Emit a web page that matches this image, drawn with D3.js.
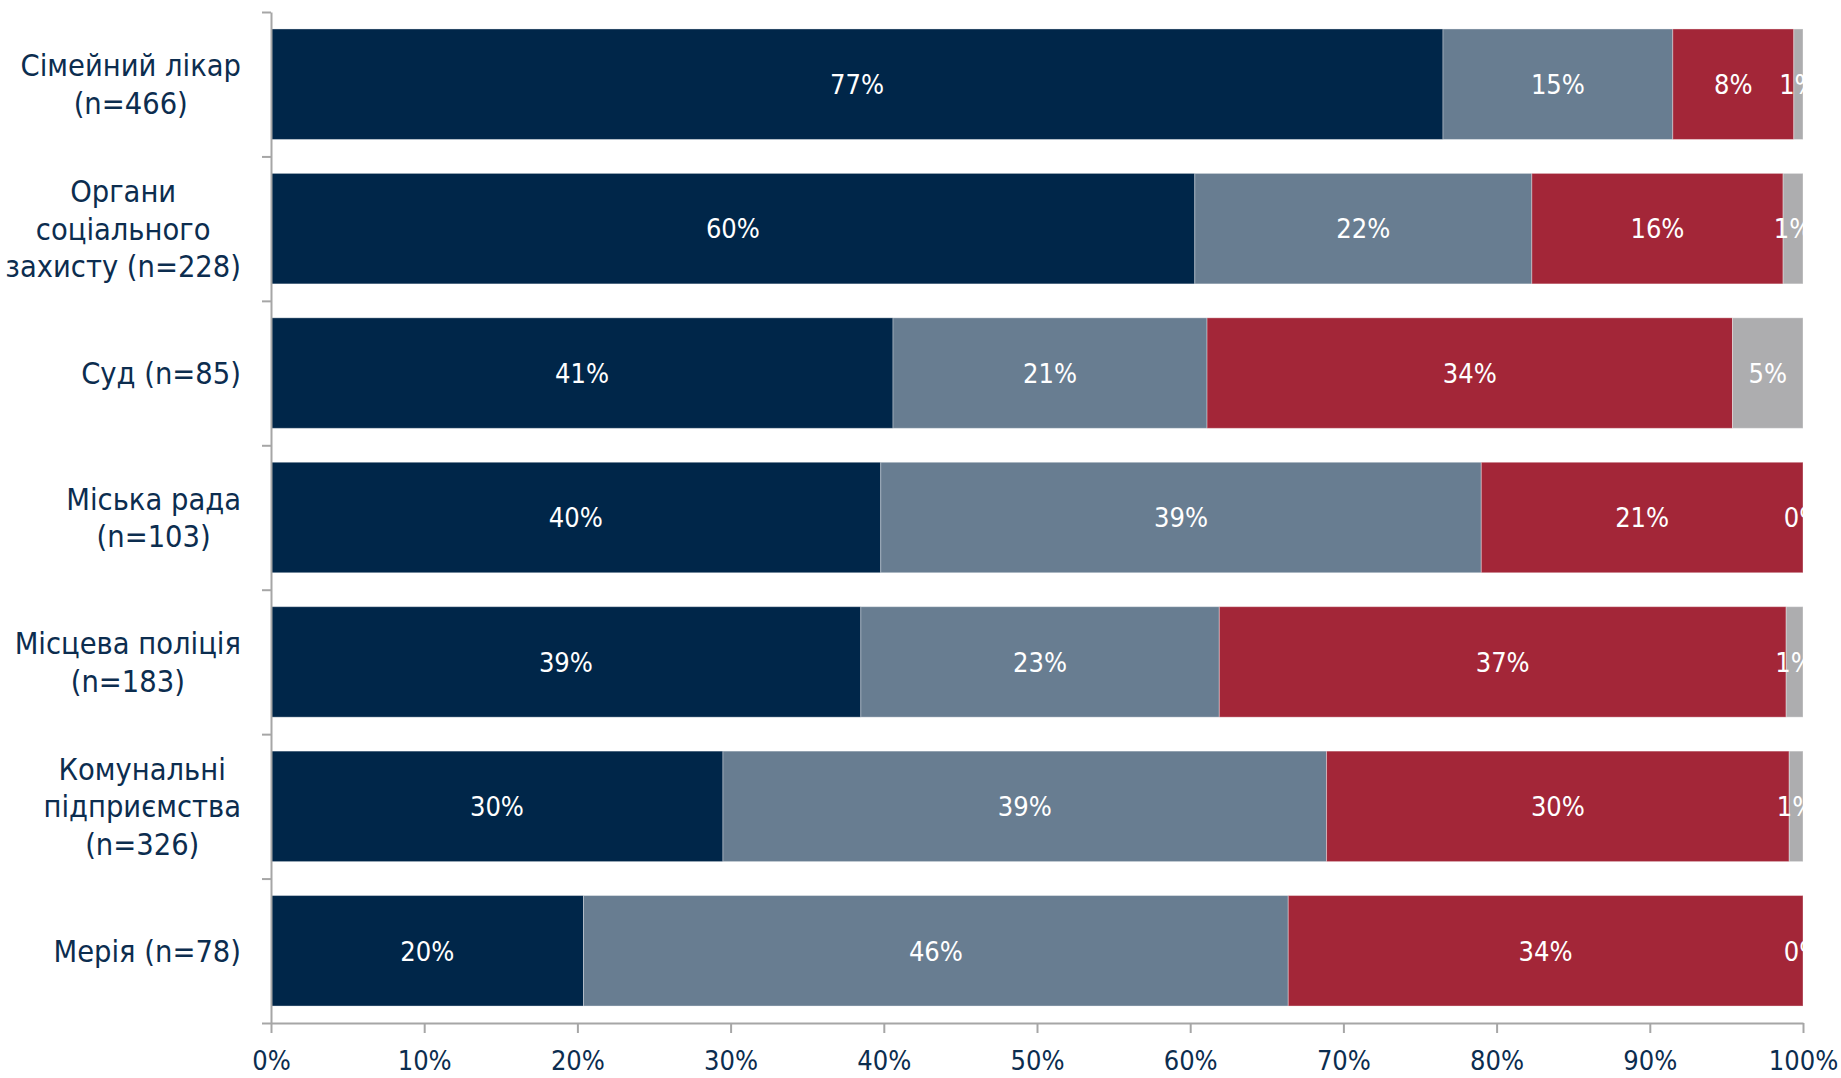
<!DOCTYPE html>
<html>
<head>
<meta charset="utf-8">
<script src="https://cdn.jsdelivr.net/npm/d3@7"></script>
<style>
    body { margin: 0; background: #fff; }
    text { font-family: "DejaVu Sans Condensed", "DejaVu Sans", sans-serif; font-stretch: condensed; }
    .axis path, .axis line { stroke: #a6a6a6; stroke-width: 2; }
    .axis text { fill: #0c2d4f; }
</style>
</head>
<body>
<div id="chart"></div>
<script>
const categories = [
    ["Сімейний лікар", "(n=466)"],
    ["Органи", "соціального", "захисту (n=228)"],
    ["Суд (n=85)"],
    ["Міська рада", "(n=103)"],
    ["Місцева поліція", "(n=183)"],
    ["Комунальні", "підприємства", "(n=326)"],
    ["Мерія (n=78)"]
];

// shares per category, in percent
const seriesDark  = [76.5, 60.3, 40.6, 39.8, 38.5, 29.5, 20.4];
const seriesSteel = [15.0, 22.0, 20.5, 39.2, 23.4, 39.4, 46.0];
const seriesRed   = [ 7.9, 16.4, 34.3, 21.0, 37.0, 30.2, 33.6];
const seriesGrey  = [ 0.6,  1.3,  4.6,  0.0,  1.1,  0.9,  0.0];

const xTicks = [0, 10, 20, 30, 40, 50, 60, 70, 80, 90, 100];
const seriesColors = ["#002649", "#687d91", "#a32638", "#adadaf"];

const width = 1841, height = 1078;
const margin = {top: 12, left: 271, bottom: 55, right: 38};

const svg = d3.select("#chart").append("svg")
    .attr("width", width)
    .attr("height", height);

const xScale = d3.scaleLinear()
    .domain([0, 100])
    .range([margin.left, width - margin.right]);

const yScale = d3.scaleBand()
    .domain(d3.range(categories.length))
    .range([margin.top, height - margin.bottom])
    .paddingInner(0.235)
    .paddingOuter(0.1175);

const yEdges = d3.scaleLinear()
    .domain([0, categories.length])
    .range([margin.top, height - margin.bottom]);

const rows = categories.map((c, i) => {
    const vals = [seriesDark[i], seriesSteel[i], seriesRed[i], seriesGrey[i]];
    let acc = 0;
    return vals.map((v, k) => {
        const seg = {row: i, k: k, value: v, x0: acc, x1: acc + v};
        acc += v;
        return seg;
    });
});
const segments = rows.flat();

svg.append("defs").append("clipPath")
    .attr("id", "plotClip")
    .append("rect")
    .attr("x", xScale(0))
    .attr("y", 0)
    .attr("width", xScale(100) - xScale(0))
    .attr("height", height - margin.bottom);

const bars_g = svg.append("g").attr("class", "bars_g");

bars_g.selectAll("rect")
    .data(segments.filter(d => d.value > 0))
    .enter()
    .append("rect")
    .attr("x", d => xScale(d.x0))
    .attr("y", d => yScale(d.row))
    .attr("width", d => xScale(d.x1) - xScale(d.x0))
    .attr("height", yScale.bandwidth())
    .attr("fill", d => seriesColors[d.k])
    .attr("stroke", "#ffffff")
    .attr("stroke-opacity", 0.35)
    .attr("stroke-width", 1);

const labels_g = svg.append("g")
    .attr("class", "labels_g")
    .attr("clip-path", "url(#plotClip)");

labels_g.selectAll("text")
    .data(segments)
    .enter()
    .append("text")
    .attr("x", d => xScale((d.x0 + d.x1) / 2))
    .attr("y", d => yScale(d.row) + yScale.bandwidth() / 2)
    .attr("dy", "0.36em")
    .attr("text-anchor", "middle")
    .attr("fill", "#ffffff")
    .style("font-size", "27px")
    .text(d => Math.round(d.value) + "%");

// x axis
const xAxis = svg.append("g")
    .attr("class", "axis axis_x")
    .attr("transform", "translate(0," + (height - margin.bottom) + ")")
    .call(d3.axisBottom(xScale)
        .tickValues(xTicks)
        .tickSize(10)
        .tickSizeOuter(0)
        .tickPadding(18)
        .tickFormat(d => d + "%"));
xAxis.selectAll("text")
    .style("font-size", "27px")
    .attr("dy", "0.72em");

// y axis: ticks on the edges between categories
svg.append("g")
    .attr("class", "axis axis_y")
    .attr("transform", "translate(" + margin.left + ",0)")
    .call(d3.axisLeft(yEdges)
        .ticks(categories.length)
        .tickSize(9)
        .tickSizeOuter(0)
        .tickFormat(""));

// category labels: centred lines, widest line flush against the axis
const labelRight = margin.left - 30;
const lineHeight = 37.5;

const cat_g = svg.append("g").attr("class", "cat_g");

categories.forEach((lines, i) => {
    const g = cat_g.append("g");
    const cy = yScale(i) + yScale.bandwidth() / 2;
    const texts = g.selectAll("text")
        .data(lines)
        .enter()
        .append("text")
        .attr("y", (d, j) => cy + (j - (lines.length - 1) / 2) * lineHeight + 11)
        .attr("text-anchor", "middle")
        .attr("fill", "#0c2d4f")
        .style("font-size", "30.5px")
        .text(d => d);
    let widest = 0;
    texts.each(function () { widest = Math.max(widest, this.getComputedTextLength()); });
    texts.attr("x", labelRight - widest / 2);
});
</script>
</body>
</html>
